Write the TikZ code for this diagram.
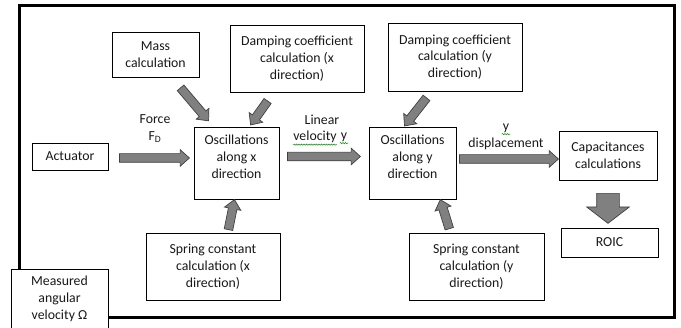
\documentclass[tikz,border=0pt]{standalone}
\usepackage{fontspec}
\setmainfont{Carlito}
\usetikzlibrary{shapes.arrows,calc,decorations.pathmorphing}
\newcommand\blockarr[4]{%
  \path let \p1=($(#4)-(#3)$), \n1={veclen(\x1,\y1)} in (#3) -- (#4) node[#1, midway, minimum height=\n1] (#2) {};}
\begin{document}
\begin{tikzpicture}[x=1pt,y=-1pt,
  every node/.style={font=\fontsize{13.8}{16.8}\selectfont, inner sep=0pt, text=black!90},
  box/.style={draw=black, line width=0.8pt, fill=white, align=center},
  lbl/.style={align=center},
  barrow/.style={single arrow, draw=black!75, fill=black!50, line width=0.7pt,
    inner xsep=0pt, inner ysep=4pt, minimum width=0pt,
    single arrow head extend=4pt, single arrow tip angle=84,
    sloped, allow upside down},
  bigarrow/.style={barrow, inner ysep=11pt, single arrow head extend=10pt, single arrow tip angle=105},
  wavy/.style={draw=green!60!black, line width=0.5pt, decorate, decoration={snake, amplitude=0.6pt, segment length=2.5pt}}
]
\useasboundingbox (0,0) rectangle (681,328);
\draw[line width=3pt] (19,6) rectangle (674,318);

% boxes
\node[box, minimum width=87, minimum height=45] (mass) at (155.5,54.5) {Mass\\calculation};
\node[box, minimum width=134, minimum height=67] (dampx) at (297,58.5) {Damping coefficient\\calculation (x\\direction)};
\node[box, minimum width=134, minimum height=68] (dampy) at (455,57) {Damping coefficient\\calculation (y\\direction)};
\node[box, minimum width=76, minimum height=27] (act) at (70,156.5) {Actuator};
\node[box, minimum width=85, minimum height=72] (oscx) at (236.5,163) {};
\node[lbl] (oscxt) at ($(oscx.center)+(0,-6)$) {Oscillations\\along x\\direction};
\node[box, minimum width=87, minimum height=72] (oscy) at (412.5,163) {};
\node[lbl] (oscyt) at ($(oscy.center)+(0,-6)$) {Oscillations\\along y\\direction};
\node[box, minimum width=98, minimum height=49] (cap) at (608,155.5) {Capacitances\\calculations};
\node[box, minimum width=97, minimum height=29] (roic) at (609.5,242.5) {ROIC};
\node[box, minimum width=134, minimum height=67] (sprx) at (213,266.5) {Spring constant\\calculation (x\\direction)};
\node[box, minimum width=135, minimum height=67] (spry) at (476.5,266.5) {Spring constant\\calculation (y\\direction)};
\node[box, minimum width=97, minimum height=60] (meas) at (59.5,299) {Measured\\angular\\velocity Ω};

% labels
\node[lbl] (force) at (155,129) {Force\\F\textsubscript{D}};
\node[lbl] (lin) at (322,120) {Linear};
\node (vel) at (315,137) {velocity};
\node (vy) at (344,137) {y};
\node (ydl) at (506,128) {y};
\node (disp) at (506,144) {displacement};
\draw[wavy] ($(vel.south west)+(0,1.5)$) -- ($(vel.south east)+(0,1.5)$);
\draw[wavy] ($(vy.south west)+(-1,1.5)$) -- ($(vy.south east)+(1,1.5)$);
\draw[wavy] ($(ydl.south west)+(-1,1.5)$) -- ($(ydl.south east)+(1,1.5)$);

% arrow end points
\coordinate (a1s) at (117,158);   \coordinate (a1e) at (187,158);
\coordinate (a2s) at (285,156.5); \coordinate (a2e) at (358,156.5);
\coordinate (a3s) at (457,159);   \coordinate (a3e) at (556,159);
\coordinate (a4s) at (179,86);    \coordinate (a4e) at (207,119);
\coordinate (a5s) at (269,99);    \coordinate (a5e) at (252,123);
\coordinate (a6s) at (428,96);    \coordinate (a6e) at (406,124);
\coordinate (a7s) at (228,232);   \coordinate (a7e) at (234,202);
\coordinate (a8s) at (450,231);   \coordinate (a8e) at (441,202);
\coordinate (a9s) at (608,189);   \coordinate (a9e) at (608,219);

\blockarr{barrow}{ar1}{a1s}{a1e}
\blockarr{barrow}{ar2}{a2s}{a2e}
\blockarr{barrow}{ar3}{a3s}{a3e}
\blockarr{barrow}{ar4}{a4s}{a4e}
\blockarr{barrow}{ar5}{a5s}{a5e}
\blockarr{barrow}{ar6}{a6s}{a6e}
\blockarr{barrow}{ar7}{a7s}{a7e}
\blockarr{barrow}{ar8}{a8s}{a8e}
\blockarr{bigarrow}{ar9}{a9s}{a9e}
\end{tikzpicture}
\end{document}
